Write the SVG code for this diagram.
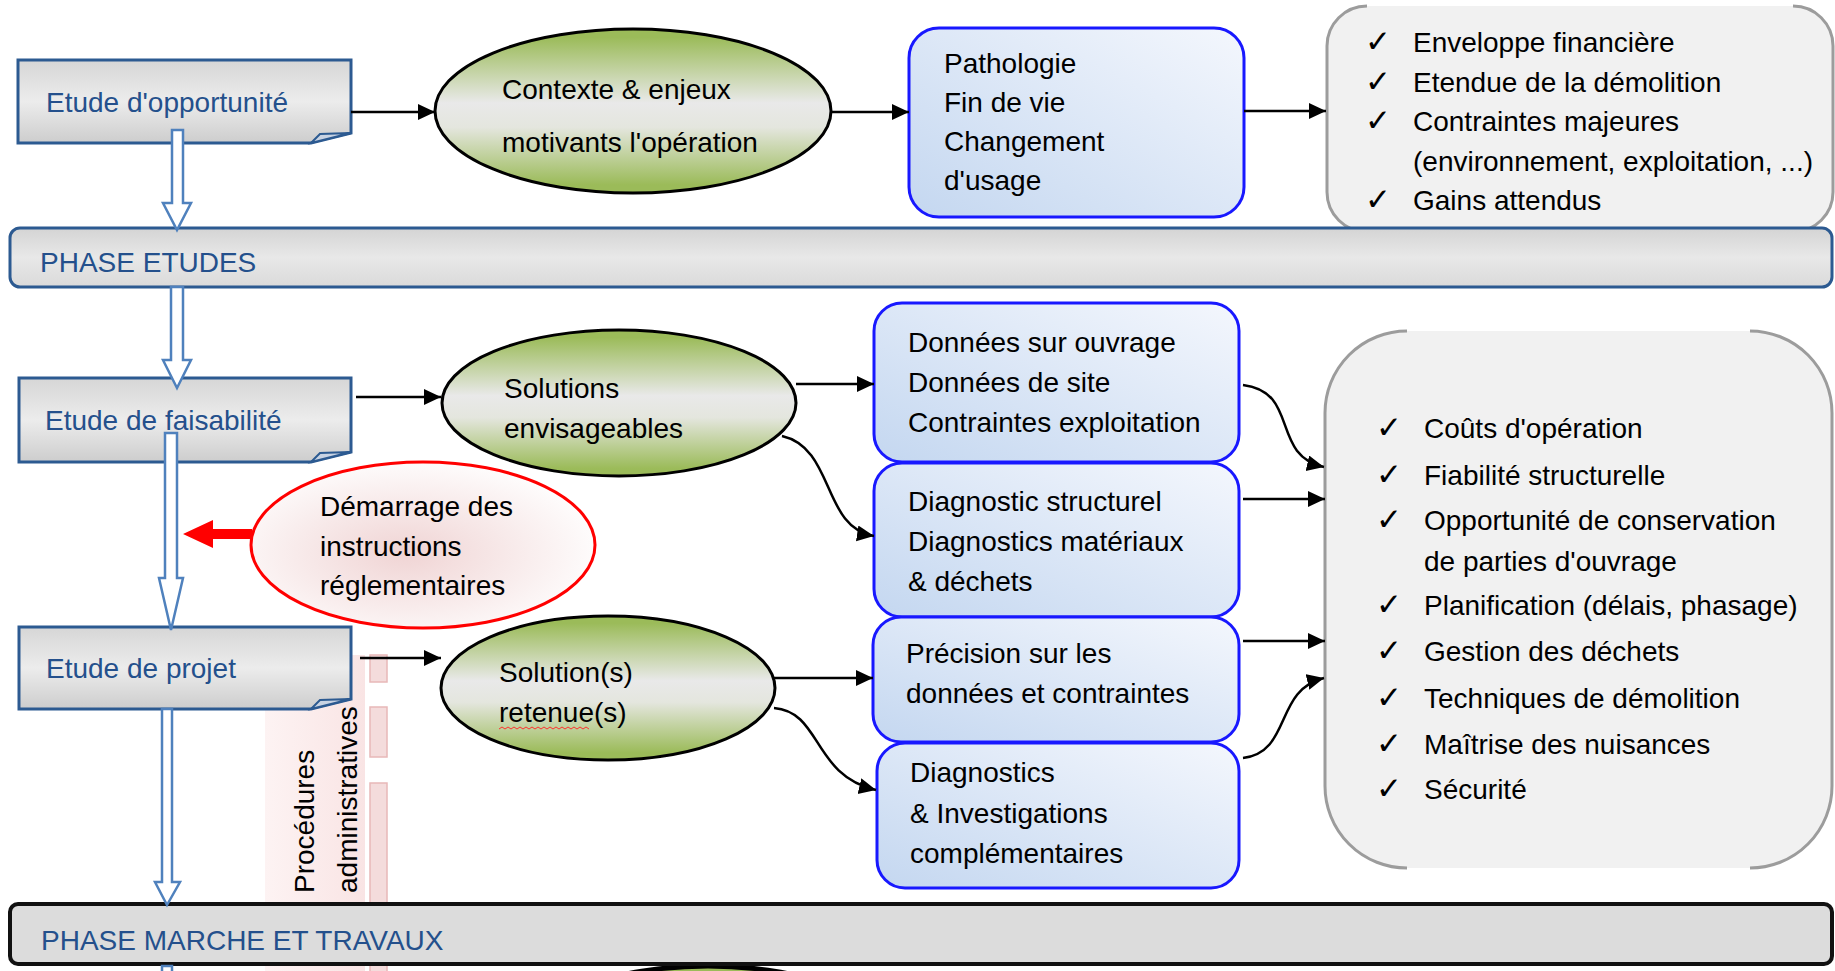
<svg xmlns="http://www.w3.org/2000/svg" width="1835" height="971" viewBox="0 0 1835 971">
<defs>
<linearGradient id="gGray" x1="0" y1="0" x2="0" y2="1">
<stop offset="0" stop-color="#d6d6d6"/><stop offset="0.5" stop-color="#ececec"/><stop offset="1" stop-color="#cdcdcd"/>
</linearGradient>
<linearGradient id="gBar" x1="0" y1="0" x2="0" y2="1">
<stop offset="0" stop-color="#d4d4d4"/><stop offset="0.5" stop-color="#e8e8e8"/><stop offset="1" stop-color="#dadada"/>
</linearGradient>
<linearGradient id="gGreen" x1="0" y1="0" x2="0" y2="1">
<stop offset="0.05" stop-color="#9bbb59"/><stop offset="0.45" stop-color="#e9e9e9"/><stop offset="0.6" stop-color="#e4e6de"/><stop offset="0.95" stop-color="#9bbb59"/>
</linearGradient>
<linearGradient id="gBlue" x1="0" y1="1" x2="1" y2="0">
<stop offset="0" stop-color="#c4d7f0"/><stop offset="1" stop-color="#f4f7fd"/>
</linearGradient>
<radialGradient id="gRed" cx="0.45" cy="0.55" r="0.6">
<stop offset="0" stop-color="#f0d4d4"/><stop offset="1" stop-color="#ffffff"/>
</radialGradient>
<linearGradient id="gBand" x1="0" y1="0" x2="1" y2="0">
<stop offset="0" stop-color="#fdf3f3"/><stop offset="1" stop-color="#f9e4e4"/>
</linearGradient>
<marker id="ah" markerUnits="userSpaceOnUse" markerWidth="18" markerHeight="18" refX="17" refY="8" orient="auto">
<path d="M0,0 L17,8 L0,16 Z" fill="#000"/>
</marker>
<style>
.t{font-family:"Liberation Sans",Arial,sans-serif;font-size:28px;fill:#000}
.tb{fill:#24508c}
.ck{font-family:"DejaVu Sans",sans-serif;font-size:31px;fill:#000}
.conn{stroke:#000;stroke-width:2.5;fill:none;marker-end:url(#ah)}
.box{stroke:#2c5a91;stroke-width:3;fill:url(#gGray)}
.fold{stroke:#2c5a91;stroke-width:2;fill:#c8d3e3}
.blue{stroke:#1818ff;stroke-width:3;fill:url(#gBlue)}
.ell{stroke:#000;stroke-width:3;fill:url(#gGreen)}
.dbl{fill:#fff;stroke:#4f81bd;stroke-width:2.5}
.lst{fill:#f1f1f1;stroke:none}
.brk{fill:none;stroke:#9c9c9c;stroke-width:3}
.dash{fill:#f4dcdc;stroke:#e8b8b8;stroke-width:1.5}
</style>
</defs>
<rect width="1835" height="971" fill="#fff"/>

<g id="procedures">
<rect x="265" y="655" width="100" height="316" fill="url(#gBand)"/>
<rect class="dash" x="370" y="655" width="17" height="27"/>
<rect class="dash" x="370" y="707" width="17" height="50"/>
<rect class="dash" x="370" y="783" width="17" height="200"/>
<text class="t" transform="translate(314,893) rotate(-90)">Procédures</text>
<text class="t" transform="translate(357,893) rotate(-90)">administratives</text>
</g>

<g id="n-top-list">
<rect class="lst" x="1327" y="6" width="506" height="226" rx="40"/>
<path class="brk" d="M1367,6 A40,40 0 0 0 1327,46 L1327,192 A40,40 0 0 0 1367,232"/>
<path class="brk" d="M1793,6 A40,40 0 0 1 1833,46 L1833,192 A40,40 0 0 1 1793,232"/>
<text class="ck" x="1365" y="52">✓</text><text class="t" x="1413" y="52">Enveloppe financière</text>
<text class="ck" x="1365" y="92">✓</text><text class="t" x="1413" y="92">Etendue de la démolition</text>
<text class="ck" x="1365" y="131">✓</text><text class="t" x="1413" y="131">Contraintes majeures</text>
<text class="t" x="1413" y="171">(environnement, exploitation, ...)</text>
<text class="ck" x="1365" y="210">✓</text><text class="t" x="1413" y="210">Gains attendus</text>
</g>

<g id="n-big-list">
<rect class="lst" x="1325" y="331" width="507" height="537" rx="82"/>
<path class="brk" d="M1407,331 A82,82 0 0 0 1325,413 L1325,786 A82,82 0 0 0 1407,868"/>
<path class="brk" d="M1750,331 A82,82 0 0 1 1832,413 L1832,786 A82,82 0 0 1 1750,868"/>
<text class="ck" x="1376" y="438">✓</text><text class="t" x="1424" y="438">Coûts d'opération</text>
<text class="ck" x="1376" y="485">✓</text><text class="t" x="1424" y="485">Fiabilité structurelle</text>
<text class="ck" x="1376" y="530">✓</text><text class="t" x="1424" y="530">Opportunité de conservation</text>
<text class="t" x="1424" y="571">de parties d'ouvrage</text>
<text class="ck" x="1376" y="615">✓</text><text class="t" x="1424" y="615">Planification (délais, phasage)</text>
<text class="ck" x="1376" y="661">✓</text><text class="t" x="1424" y="661">Gestion des déchets</text>
<text class="ck" x="1376" y="708">✓</text><text class="t" x="1424" y="708">Techniques de démolition</text>
<text class="ck" x="1376" y="754">✓</text><text class="t" x="1424" y="754">Maîtrise des nuisances</text>
<text class="ck" x="1376" y="799">✓</text><text class="t" x="1424" y="799">Sécurité</text>
</g>

<g id="n-phase-etudes">
<rect x="10" y="228" width="1822" height="59" rx="10" fill="url(#gBar)" stroke="#2c5a91" stroke-width="3"/>
<text class="t tb" x="40" y="272">PHASE ETUDES</text>
</g>

<g id="n-opportunite">
<path class="box" d="M18,60 H351 V133 L311,143 H18 Z"/>
<path class="fold" d="M311,143 L320,134 L351,133 Z"/>
<text class="t tb" x="46" y="112">Etude d'opportunité</text>
</g>

<g id="n-contexte">
<ellipse class="ell" cx="633" cy="111" rx="198" ry="82"/>
<text class="t" x="502" y="99">Contexte &amp; enjeux</text>
<text class="t" x="502" y="152">motivants l'opération</text>
</g>

<g id="n-pathologie">
<rect class="blue" x="909" y="28" width="335" height="189" rx="30"/>
<text class="t" x="944" y="73">Pathologie</text>
<text class="t" x="944" y="112">Fin de vie</text>
<text class="t" x="944" y="151">Changement</text>
<text class="t" x="944" y="190">d'usage</text>
</g>

<g id="n-faisabilite">
<path class="box" d="M19,378 H351 V452 L311,462 H19 Z"/>
<path class="fold" d="M311,462 L320,453 L351,452 Z"/>
<text class="t tb" x="45" y="430">Etude de faisabilité</text>
</g>

<g id="n-solutions">
<ellipse class="ell" cx="619" cy="403" rx="177" ry="73"/>
<text class="t" x="504" y="398">Solutions</text>
<text class="t" x="504" y="438">envisageables</text>
</g>

<g id="n-donnees">
<rect class="blue" x="874" y="303" width="365" height="159" rx="28"/>
<text class="t" x="908" y="352">Données sur ouvrage</text>
<text class="t" x="908" y="392">Données de site</text>
<text class="t" x="908" y="432">Contraintes exploitation</text>
</g>

<g id="n-diagnostic">
<rect class="blue" x="874" y="463" width="365" height="154" rx="28"/>
<text class="t" x="908" y="511">Diagnostic structurel</text>
<text class="t" x="908" y="551">Diagnostics matériaux</text>
<text class="t" x="908" y="591">&amp; déchets</text>
</g>

<g id="n-demarrage">
<ellipse cx="423" cy="545" rx="172" ry="83" fill="url(#gRed)" stroke="#ff0000" stroke-width="3"/>
<text class="t" x="320" y="516">Démarrage des</text>
<text class="t" x="320" y="556">instructions</text>
<text class="t" x="320" y="595">réglementaires</text>
</g>

<g id="n-projet">
<path class="box" d="M19,627 H351 V699 L311,709 H19 Z"/>
<path class="fold" d="M311,709 L320,700 L351,699 Z"/>
<text class="t tb" x="46" y="678">Etude de projet</text>
</g>

<g id="n-retenues">
<ellipse class="ell" cx="608" cy="688" rx="167" ry="72"/>
<text class="t" x="499" y="682">Solution(s)</text>
<text class="t" x="499" y="722">retenue(s)</text>
<path d="M499,729 l3,-2 l3,2 l3,-2 l3,2 l3,-2 l3,2 l3,-2 l3,2 l3,-2 l3,2 l3,-2 l3,2 l3,-2 l3,2 l3,-2 l3,2 l3,-2 l3,2 l3,-2 l3,2 l3,-2 l3,2 l3,-2 l3,2 l3,-2 l3,2 l3,-2 l3,2 l3,-2 l3,2" fill="none" stroke="#ff3030" stroke-width="1"/>
</g>

<g id="n-precision">
<rect class="blue" x="873" y="617" width="366" height="125" rx="28"/>
<text class="t" x="906" y="663">Précision sur les</text>
<text class="t" x="906" y="703">données et contraintes</text>
</g>

<g id="n-diagnostics-comp">
<rect class="blue" x="877" y="743" width="362" height="145" rx="28"/>
<text class="t" x="910" y="782">Diagnostics</text>
<text class="t" x="910" y="823">&amp; Investigations</text>
<text class="t" x="910" y="863">complémentaires</text>
</g>

<g id="n-next">
<ellipse cx="708" cy="1040" rx="180" ry="74" fill="#9bbb59" stroke="#000" stroke-width="5"/>
</g>

<g id="n-phase-marche">
<rect x="10" y="904" width="1822" height="60" rx="8" fill="#dcdcdc" stroke="#111" stroke-width="4"/>
<text class="t tb" x="41" y="950">PHASE MARCHE ET TRAVAUX</text>
</g>

<g id="connectors">
<line class="conn" x1="351" y1="112" x2="435" y2="112"/>
<line class="conn" x1="832" y1="112" x2="909" y2="112"/>
<line class="conn" x1="1244" y1="111" x2="1326" y2="111"/>
<line class="conn" x1="356" y1="397" x2="441" y2="397"/>
<line class="conn" x1="796" y1="384" x2="874" y2="384"/>
<path class="conn" d="M782,436 C835,448 822,528 874,536"/>
<line class="conn" x1="360" y1="658" x2="441" y2="658"/>
<line class="conn" x1="774" y1="678" x2="873" y2="678"/>
<path class="conn" d="M774,708 C822,712 812,775 876,790"/>
<path class="conn" d="M1243,385 C1300,392 1270,455 1324,467"/>
<line class="conn" x1="1243" y1="499" x2="1325" y2="499"/>
<line class="conn" x1="1243" y1="641" x2="1325" y2="641"/>
<path class="conn" d="M1243,758 C1292,752 1274,690 1324,678"/>
<polygon class="dbl" points="172,130 183,130 183,203 191,203 177,230 163,203 172,203"/>
<polygon class="dbl" points="171,287 183,287 183,360 191,360 177,388 163,360 171,360"/>
<polygon class="dbl" points="165,433 177,433 177,578 183,578 171,630 159,578 165,578"/>
<polygon class="dbl" points="162,709 172,709 172,882 180,882 167,905 155,882 162,882"/>
<rect class="dbl" x="162" y="966" width="10" height="8"/>
<polygon points="183,534 213,520 213,529 252,529 252,539 213,539 213,548" fill="#ff0000"/>
</g>
</svg>
